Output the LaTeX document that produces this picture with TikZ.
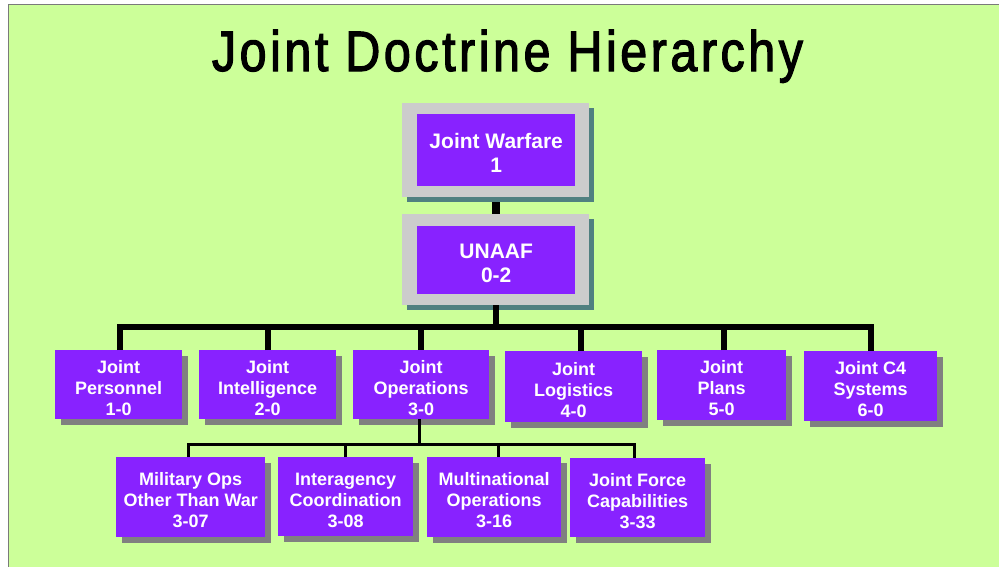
\documentclass[tikz,border=0pt]{standalone}
\usepackage{fontspec}
\setmainfont{Liberation Sans}
\newfontfamily\titlefont[FakeStretch=0.85,FakeBold=2,LetterSpace=6.2]{Liberation Sans}
\usetikzlibrary{shadows,calc}
\definecolor{bg}{HTML}{CCFF99}
\definecolor{pur}{HTML}{8822FF}
\definecolor{framegray}{HTML}{CCCCCC}
\definecolor{tealshadow}{HTML}{508080}
\definecolor{grayshadow}{HTML}{808080}
\definecolor{edgegray}{HTML}{7A7A7A}
\begin{document}
\begin{tikzpicture}[x=1pt,y=-1pt,
  box/.style={fill=pur, text=white, font=\fontsize{18}{21}\selectfont\bfseries,
    align=center, inner sep=0pt, anchor=north west, text height=61pt,
    drop shadow={shadow xshift=6pt, shadow yshift=-6pt, fill=grayshadow, opacity=1}},
  framebox/.style={fill=framegray, inner sep=0pt, anchor=north west,
    drop shadow={shadow xshift=5pt, shadow yshift=-5pt, fill=tealshadow, opacity=1}},
  topbox/.style={fill=pur, text=white, font=\fontsize{21}{24}\selectfont\bfseries,
    align=center, inner sep=0pt, anchor=north west, text height=45pt},
  thickline/.style={line width=8pt, black},
  busline/.style={line width=6pt, black},
  thinbus/.style={line width=3.5pt, black}]
\useasboundingbox (0,0) rectangle (999,566);
\fill[white] (0,0) rectangle (999,566);
\fill[bg] (8.5,4.5) rectangle (1010,580);
\draw[edgegray, line width=1.5pt] (8.5,580) -- (8.5,4.5) -- (1010,4.5);

\node[anchor=base, font=\titlefont\fontsize{57}{60}\selectfont] (title) at (507.5,71) {Joint Doctrine Hierarchy};

% level 1
\node[framebox, minimum width=187, minimum height=94] (jwf) at (402,103) {};
\node[topbox, minimum width=158, minimum height=72] (jw) at (417,114) {Joint Warfare\\1};
\node[framebox, minimum width=187, minimum height=91] (unf) at (402,214) {};
\node[topbox, minimum width=158, minimum height=68] (un) at (417,226) {UNAAF\\0-2};

% level 2
\node[box, minimum width=127, minimum height=69] (p1) at (55,350) {Joint\\Personnel\\1-0};
\node[box, minimum width=137, minimum height=69] (p2) at (199,350) {Joint\\Intelligence\\2-0};
\node[box, minimum width=136, minimum height=69] (p3) at (353,350) {Joint\\Operations\\3-0};
\node[box, minimum width=137, minimum height=71] (p4) at (505,351) {Joint\\Logistics\\4-0};
\node[box, minimum width=129, minimum height=70] (p5) at (657,350) {Joint\\Plans\\5-0};
\node[box, minimum width=133, minimum height=70] (p6) at (804,351) {Joint C4\\Systems\\6-0};

% level 3
\node[box, minimum width=149, minimum height=80] (m1) at (116,457) {Military Ops\\Other Than War\\3-07};
\node[box, minimum width=135, minimum height=79] (m2) at (278,457) {Interagency\\Coordination\\3-08};
\node[box, minimum width=134, minimum height=80] (m3) at (427,457) {Multinational\\Operations\\3-16};
\node[box, minimum width=135, minimum height=79] (m4) at (570,458) {Joint Force\\Capabilities\\3-33};

% connectors
\coordinate (bus) at (0,327);
\coordinate (bus2) at (0,444.5);
\coordinate (d1) at ([xshift=1.5pt]p1.north);
\coordinate (e1) at ([xshift=-2pt]m1.north);
\coordinate (e4) at ([xshift=-3pt]m4.north);
\draw[thickline] ([yshift=-5pt]jwf.south) -- (unf.north);
\draw[busline] (unf.south) -- (unf.south |- bus);
\draw[busline] (d1) -- (d1 |- bus) -- (p6.north |- bus) -- (p6.north);
\foreach \n/\dx in {p2/0, p3/0, p4/7.5, p5/2.5}
  \draw[busline] ([xshift=\dx pt]\n.north) -- ([xshift=\dx pt]\n.north |- bus);

\draw[thinbus] ([xshift=-1.5pt]p3.south) -- ([xshift=-1.5pt]p3.south |- bus2);
\draw[thinbus] (e1) -- (e1 |- bus2) -- (e4 |- bus2) -- (e4);
\foreach \n/\dx in {m2/0, m3/4.5}
  \draw[thinbus] ([xshift=\dx pt]\n.north) -- ([xshift=\dx pt]\n.north |- bus2);
\end{tikzpicture}
\end{document}
